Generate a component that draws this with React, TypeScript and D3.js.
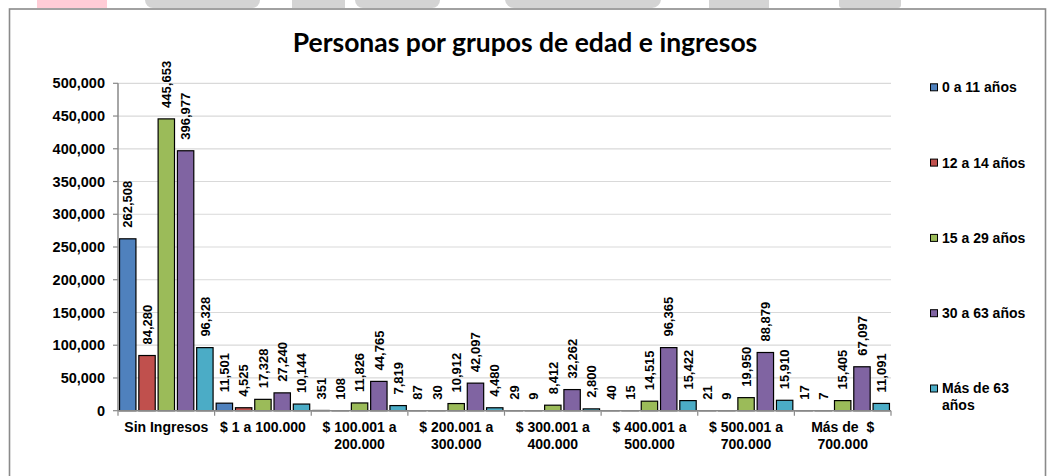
import React from "react";
import * as d3 from "d3";

const categories: string[][] = [
  ["Sin Ingresos"],
  ["$ 1 a 100.000"],
  ["$ 100.001 a", "200.000"],
  ["$ 200.001 a", "300.000"],
  ["$ 300.001 a", "400.000"],
  ["$ 400.001 a", "500.000"],
  ["$ 500.001 a", "700.000"],
  ["Más de \u00a0$", "700.000"],
];
const seriesNames = ["0 a 11 años", "12 a 14 años", "15 a 29 años", "30 a 63 años", "Más de 63 años"];
const legendLines: string[][] = [["0 a 11 años"], ["12 a 14 años"], ["15 a 29 años"], ["30 a 63 años"], ["Más de 63", "años"]];
const colors = ["#4f81bd", "#c0504d", "#9bbb59", "#8064a2", "#4bacc6"];
const age0to11 = [262508, 11501, 351, 87, 29, 40, 21, 17];
const age12to14 = [84280, 4525, 108, 30, 9, 15, 9, 7];
const age15to29 = [445653, 17328, 11826, 10912, 8412, 14515, 19950, 15405];
const age30to63 = [396977, 27240, 44765, 42097, 32262, 96365, 88879, 67097];
const ageOver63 = [96328, 10144, 7819, 4480, 2800, 15422, 15910, 11091];
const seriesValues = [age0to11, age12to14, age15to29, age30to63, ageOver63];
const yTicks = [0, 50000, 100000, 150000, 200000, 250000, 300000, 350000, 400000, 450000, 500000];

const W = 1049;
const H = 476;
const plot = { left: 118, right: 891, top: 83.3, bottom: 410.7 };
const FONT = "Liberation Sans, Arial, Helvetica, sans-serif";

export default function App() {
  const x0 = d3
    .scaleBand<number>()
    .domain(categories.map((_, i) => i))
    .range([plot.left, plot.right])
    .padding(0);
  const x1 = d3
    .scaleBand<number>()
    .domain(seriesNames.map((_, i) => i))
    .range([0, x0.bandwidth()])
    .paddingInner(0.15)
    .paddingOuter(0.08);
  const y = d3.scaleLinear().domain([0, 500000]).range([plot.bottom, plot.top]);
  const fmt = d3.format(",");

  return (
    <svg width={W} height={H} style={{ position: "absolute", left: 0, top: 0, background: "#fff" }}>
      {/* watermark fragments */}
      <rect x={37} y={-6} width={70} height={14} fill="#ffccd6" />
      <rect x={145} y={-10} width={115} height={18} rx={8} fill="#d4d4d4" />
      <rect x={292} y={-6} width={53} height={14} fill="#d4d4d4" />
      <rect x={355} y={-10} width={85} height={18} rx={8} fill="#d4d4d4" />
      <rect x={505} y={-10} width={156} height={18} rx={9} fill="#d4d4d4" />
      <rect x={709} y={-6} width={60} height={14} fill="#d4d4d4" />
      <rect x={839} y={-6} width={62} height={14} rx={3} fill="#d4d4d4" />

      {/* frame */}
      <rect x={9.5} y={9} width={1036} height={500} fill="#fff" stroke="#8a8a8a" strokeWidth={1.6} />

      {/* title */}
      <text x={525} y={52} textAnchor="middle" fontFamily="Lato, Noto Sans, sans-serif" fontWeight="bold" fontSize={26.5} fill="#000">
        Personas por grupos de edad e ingresos
      </text>

      {/* grid */}
      {yTicks.map((t) => (
        <g key={t}>
          {t > 0 && (
            <line x1={plot.left} x2={plot.right} y1={y(t)} y2={y(t)} stroke="#d9d9d9" strokeWidth={1.2} />
          )}
          <line x1={plot.left - 5} x2={plot.left} y1={y(t)} y2={y(t)} stroke="#888" strokeWidth={1.2} />
          <text x={105} y={y(t)} dy="0.35em" textAnchor="end" fontFamily={FONT} fontWeight="bold" fontSize={14.5} fill="#000">
            {fmt(t)}
          </text>
        </g>
      ))}

      {/* bars */}
      {seriesValues.map((vals, s) =>
        vals.map((v, c) => {
          const bx = (x0(c) as number) + (x1(s) as number);
          const by = y(v);
          const cx = bx + x1.bandwidth() / 2;
          return (
            <g key={`${s}-${c}`}>
              <rect x={bx} y={by} width={x1.bandwidth()} height={plot.bottom - by} fill={colors[s]} stroke="#000" strokeWidth={1.2} />
              <text
                transform={`translate(${cx},${by - 11}) rotate(-90)`}
                dy="0.36em"
                textAnchor="start"
                fontFamily={FONT}
                fontWeight="bold"
                fontSize={13}
                fill="#000"
              >
                {fmt(v)}
              </text>
            </g>
          );
        })
      )}

      {/* axes */}
      <line x1={plot.left} x2={plot.left} y1={plot.top} y2={plot.bottom} stroke="#888" strokeWidth={1.5} />
      <line x1={plot.left} x2={plot.right} y1={plot.bottom} y2={plot.bottom} stroke="#888" strokeWidth={1.5} />
      {categories.map((_, i) => (
        <line
          key={i}
          x1={x0(i) as number}
          x2={x0(i) as number}
          y1={plot.bottom}
          y2={plot.bottom + 5}
          stroke="#888"
          strokeWidth={1.2}
        />
      ))}
      <line x1={plot.right} x2={plot.right} y1={plot.bottom} y2={plot.bottom + 5} stroke="#888" strokeWidth={1.2} />

      {/* category labels */}
      {categories.map((lines, i) => (
        <text
          key={i}
          x={(x0(i) as number) + x0.bandwidth() / 2}
          y={432}
          textAnchor="middle"
          fontFamily={FONT}
          fontWeight="bold"
          fontSize={14}
          fill="#000"
        >
          {lines.map((l, j) => (
            <tspan key={j} x={(x0(i) as number) + x0.bandwidth() / 2} dy={j === 0 ? 0 : 17}>
              {l}
            </tspan>
          ))}
        </text>
      ))}

      {/* legend */}
      {legendLines.map((lines, i) => {
        const cy = 87.3 + i * 75.3;
        return (
          <g key={i}>
            <rect x={930.5} y={cy - 3.5} width={7} height={7} fill={colors[i]} stroke="#000" strokeWidth={1} />
            <text x={942} y={cy} fontFamily={FONT} fontWeight="bold" fontSize={14} fill="#000">
              {lines.map((l, j) => (
                <tspan key={j} x={942} dy={j === 0 ? "0.35em" : 17}>
                  {l}
                </tspan>
              ))}
            </text>
          </g>
        );
      })}
    </svg>
  );
}
